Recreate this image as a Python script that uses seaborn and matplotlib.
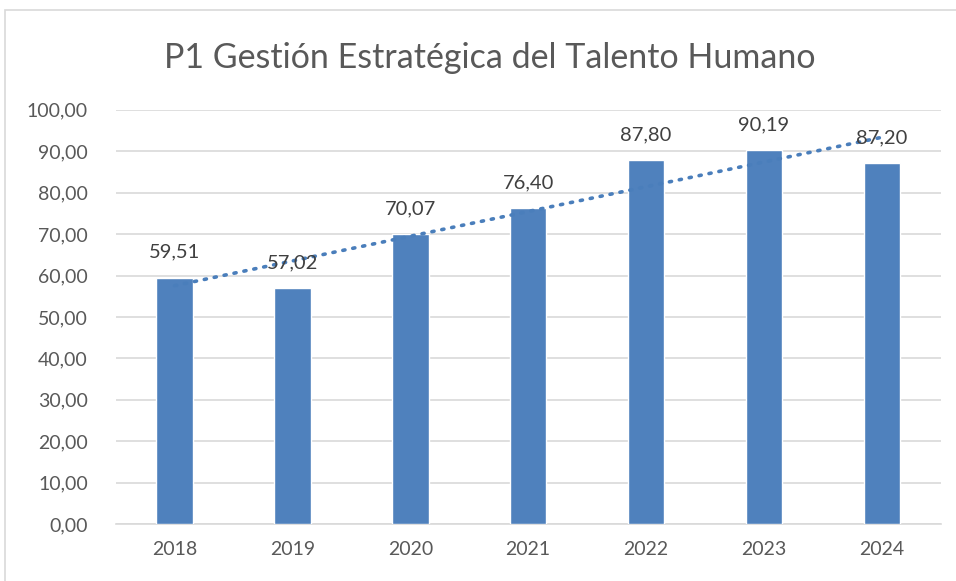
import numpy as np
import pandas as pd
import matplotlib
matplotlib.use("Agg")
import matplotlib.pyplot as plt
import seaborn as sns
from matplotlib.patches import Rectangle

years = ["2018", "2019", "2020", "2021", "2022", "2023", "2024"]
values = [59.51, 57.02, 70.07, 76.40, 87.80, 90.19, 87.20]
title = "P1 Gestión Estratégica del Talento Humano"

sns.set_theme(style="white")
plt.rcParams['font.family'] = ['Lato', 'DejaVu Sans']

df = pd.DataFrame({"year": years, "value": values})
fig = plt.figure(figsize=(9.56, 5.81), dpi=100)
ax = fig.add_axes([0.121, 0.098, 0.863, 0.713])

bar_color = "#4F81BD"
sns.barplot(data=df, x="year", y="value", color=bar_color, width=0.31,
            saturation=1, ax=ax, zorder=3)

# linear trendline
xs = np.arange(len(values))
m, b = np.polyfit(xs, values, 1)
ax.plot([xs[0], xs[-1]], [m * xs[0] + b, m * xs[-1] + b], linestyle=(0, (0.6, 2.2)),
        color="#4A7EBB", lw=2.6, dash_capstyle="round", zorder=4)

txt = "#595959"
for i, v in enumerate(values):
    ax.annotate(f"{v:.2f}".replace(".", ","), (i, v), xytext=(0, 12),
                textcoords="offset points", ha="center", va="bottom",
                fontsize=14.5, color="#404040", zorder=5)

ax.set_ylim(0, 100)
ax.set_xlim(-0.5, len(values) - 0.5)
ticks = np.arange(0, 101, 10)
ax.set_yticks(ticks)
ax.set_yticklabels([f"{t:.2f}".replace(".", ",") for t in ticks])
ax.tick_params(axis="both", length=0, labelsize=14, labelcolor=txt)
ax.tick_params(axis="y", pad=20)
ax.tick_params(axis="x", pad=12)
ax.set_xlabel("")
ax.set_ylabel("")
ax.grid(axis="y", color="#D9D9D9", lw=1.2, zorder=0)
for s in ["left", "right", "top"]:
    ax.spines[s].set_visible(False)
ax.spines["bottom"].set_color("#D9D9D9")
ax.spines["bottom"].set_linewidth(1.2)

fig.text(0.5126, 0.9, title, ha="center", va="center", fontsize=24.5, color=txt)

fig.patches.append(Rectangle((5 / 956, -0.01), 1.0, 1 - 10 / 581 + 0.01,
                             transform=fig.transFigure, fill=False,
                             edgecolor="#D9D9D9", lw=1.2))

fig.savefig("out.png", dpi=100)
